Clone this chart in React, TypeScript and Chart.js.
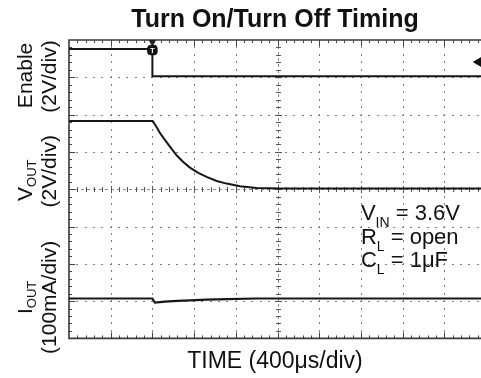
import React, { useEffect, useRef } from "react";
import { Chart, registerables } from "chart.js";

Chart.register(...registerables);

const FAMILY = "'Liberation Sans', Arial, Helvetica, sans-serif";

const TITLE = "Turn On/Turn Off Timing";
const X_AXIS_TITLE = "TIME (400μs/div)";

// Axes in screen divisions (10 x 8 graticule; the right edge is cut off)
const X_MIN = 0;
const X_MAX = 9.88;
const Y_MIN = 0;
const Y_MAX = 8;

// Enable trace
const enableT = [0, 2.0, 2.0, 9.88];
const enableV = [7.76, 7.76, 7.03, 7.03];

// VOUT trace
const voutT = [0, 2.007, 2.1, 2.18, 2.3, 2.42, 2.58, 2.74, 2.9, 3.1, 3.3, 3.54, 3.78, 4.1, 4.5, 5.06, 9.88];
const voutV = [5.83, 5.83, 5.67, 5.51, 5.32, 5.14, 4.91, 4.73, 4.58, 4.44, 4.33, 4.22, 4.15, 4.08, 4.03, 4.02, 4.02];

// IOUT trace
const ioutT = [0, 2.0, 2.06, 2.3, 2.6, 2.9, 3.3, 3.8, 4.5, 9.88];
const ioutV = [1.07, 1.07, 0.96, 0.985, 1.005, 1.02, 1.04, 1.055, 1.07, 1.07];

// Scope markers
const trigT = [2.0];
const trigV = [7.73];
const trigPosT = [2.0];
const trigPosV = [7.94];
const trigLevelT = [9.82];
const trigLevelV = [7.41];

type Part = { t: string; sub?: boolean };
const channelNames: Part[][] = [
  [{ t: "Enable" }],
  [{ t: "V" }, { t: "OUT", sub: true }],
  [{ t: "I" }, { t: "OUT", sub: true }],
];
const channelScales = ["(2V/div)", "(2V/div)", "(100mA/div)"];
const conditions: Part[][] = [
  [{ t: "V" }, { t: "IN", sub: true }, { t: " = 3.6V" }],
  [{ t: "R" }, { t: "L", sub: true }, { t: " = open" }],
  [{ t: "C" }, { t: "L", sub: true }, { t: " = 1μF" }],
];

const TRACE = "#161616";

const pts = (t: number[], v: number[]) => t.map((x, i) => ({ x, y: v[i] }));

function richWidth(ctx: CanvasRenderingContext2D, parts: Part[], main: number, sub: number) {
  let w = 0;
  for (const p of parts) {
    ctx.font = `${p.sub ? sub : main}px ${FAMILY}`;
    w += ctx.measureText(p.t).width;
  }
  return w;
}

function drawRich(
  ctx: CanvasRenderingContext2D,
  parts: Part[],
  x: number,
  y: number,
  main: number,
  sub: number,
  drop: number
) {
  let cx = x;
  for (const p of parts) {
    ctx.font = `${p.sub ? sub : main}px ${FAMILY}`;
    ctx.fillText(p.t, cx, p.sub ? y + drop : y);
    cx += ctx.measureText(p.t).width;
  }
}

const scopeGrid = {
  id: "scopeGrid",
  beforeDatasetsDraw(chart: any) {
    const { ctx, chartArea, scales } = chart;
    const x = scales.x;
    const y = scales.y;
    const L = chartArea.left;
    const R = chartArea.right;
    const T = chartArea.top;
    const B = chartArea.bottom;
    ctx.save();
    // dotted graticule
    ctx.fillStyle = "#7c7c7c";
    for (let i = 1; i < 10; i++) {
      if (i === 5) continue;
      const px = Math.round(x.getPixelForValue(i));
      if (px > R) continue;
      for (let k = 1; k < 40; k++) {
        const py = Math.round(y.getPixelForValue(k * 0.2));
        ctx.fillRect(px, py - 1, 1, 2);
      }
    }
    for (let j = 1; j < 8; j++) {
      if (j === 4) continue;
      const py = Math.round(y.getPixelForValue(j));
      for (let k = 1; k <= 50; k++) {
        const px = Math.round(x.getPixelForValue(k * 0.2));
        if (px > R) break;
        ctx.fillRect(px - 1, py, 2, 1);
      }
    }
    // center axes
    const cx = Math.round(x.getPixelForValue(5)) + 0.5;
    const cy = Math.round(y.getPixelForValue(4)) + 0.5;
    ctx.strokeStyle = "#8a8a8a";
    ctx.lineWidth = 1;
    ctx.setLineDash([3, 3]);
    ctx.beginPath();
    ctx.moveTo(cx, T);
    ctx.lineTo(cx, B);
    ctx.moveTo(L, cy);
    ctx.lineTo(R, cy);
    ctx.stroke();
    ctx.setLineDash([]);
    ctx.fillStyle = "#555";
    for (let k = 1; k < 40; k++) {
      const py = Math.round(y.getPixelForValue(k * 0.2));
      const len = k % 5 === 0 ? 7 : 5;
      ctx.fillRect(Math.round(cx - len / 2), py, len, 1);
    }
    for (let k = 1; k <= 50; k++) {
      const px = Math.round(x.getPixelForValue(k * 0.2));
      if (px > R) break;
      const len = k % 5 === 0 ? 7 : 5;
      ctx.fillRect(px, Math.round(cy - len / 2), 1, len);
    }
    // border with inward ticks
    ctx.strokeStyle = "#3a3a3a";
    ctx.lineWidth = 1.6;
    ctx.beginPath();
    ctx.moveTo(R + 2, T);
    ctx.lineTo(L, T);
    ctx.lineTo(L, B);
    ctx.lineTo(R + 2, B);
    ctx.stroke();
    ctx.fillStyle = "#444";
    for (let k = 1; k < 40; k++) {
      const py = Math.round(y.getPixelForValue(k * 0.2));
      const len = k % 5 === 0 ? 6 : 3;
      ctx.fillRect(L, py, len, 1);
    }
    for (let k = 1; k <= 50; k++) {
      const px = Math.round(x.getPixelForValue(k * 0.2));
      if (px > R) break;
      const len = k % 5 === 0 ? 6 : 3;
      ctx.fillRect(px, T, 1, len);
      ctx.fillRect(px, B - len, 1, len);
    }
    ctx.restore();
  },
};

const scopeText = {
  id: "scopeText",
  afterDraw(chart: any) {
    const { ctx, scales } = chart;
    const x = scales.x;
    const y = scales.y;
    ctx.save();

    // trigger marker glyph
    const tx = x.getPixelForValue(trigT[0]);
    const ty = y.getPixelForValue(trigV[0]);
    ctx.fillStyle = "#fff";
    ctx.font = `bold 8px ${FAMILY}`;
    ctx.textAlign = "center";
    ctx.textBaseline = "middle";
    ctx.fillText("T", tx, ty + 0.5);

    ctx.textAlign = "left";
    ctx.textBaseline = "alphabetic";
    ctx.fillStyle = "#111";

    // rotated channel labels
    const nameCenters = [7.05, 4.24, 1.1];
    const scaleCenters = [7.02, 4.48, 1.1];
    const MAIN = 21;
    const SUB = 13;
    for (let i = 0; i < 3; i++) {
      const cyN = y.getPixelForValue(nameCenters[i]);
      const wN = richWidth(ctx, channelNames[i], MAIN, SUB);
      ctx.save();
      ctx.translate(32, cyN);
      ctx.rotate(-Math.PI / 2);
      drawRich(ctx, channelNames[i], -wN / 2, 0, MAIN, SUB, 4);
      ctx.restore();

      const cyS = y.getPixelForValue(scaleCenters[i]);
      ctx.font = `${MAIN}px ${FAMILY}`;
      const wS = ctx.measureText(channelScales[i]).width;
      ctx.save();
      ctx.translate(55.5, cyS);
      ctx.rotate(-Math.PI / 2);
      ctx.fillText(channelScales[i], -wS / 2, 0);
      ctx.restore();
    }

    // test conditions
    const condX = x.getPixelForValue(7.0);
    const condY = [3.17, 2.54, 1.91];
    for (let i = 0; i < 3; i++) {
      drawRich(ctx, conditions[i], condX, y.getPixelForValue(condY[i]), 22, 14, 7);
    }
    ctx.restore();
  },
};

export default function App() {
  const ref = useRef<HTMLCanvasElement>(null);
  useEffect(() => {
    Chart.defaults.font.family = FAMILY;
    const chart = new Chart(ref.current as HTMLCanvasElement, {
      type: "line",
      data: {
        datasets: [
          {
            label: "Enable",
            data: pts(enableT, enableV),
            borderColor: TRACE,
            borderWidth: 2,
            pointRadius: 0,
            tension: 0,
          },
          {
            label: "VOUT",
            data: pts(voutT, voutV),
            borderColor: TRACE,
            borderWidth: 2,
            pointRadius: 0,
            tension: 0,
          },
          {
            label: "IOUT",
            data: pts(ioutT, ioutV),
            borderColor: TRACE,
            borderWidth: 2.2,
            pointRadius: 0,
            tension: 0,
          },
          {
            label: "Trigger",
            data: pts(trigT, trigV),
            showLine: false,
            pointStyle: "rectRounded",
            pointRadius: 5.5,
            backgroundColor: "#111",
            borderColor: "#111",
            borderWidth: 1,
          },
          {
            label: "Trigger position",
            data: pts(trigPosT, trigPosV),
            showLine: false,
            pointStyle: "triangle",
            rotation: 180,
            pointRadius: 3.5,
            backgroundColor: "#222",
            borderColor: "#222",
            borderWidth: 1,
          },
          {
            label: "Trigger level",
            data: pts(trigLevelT, trigLevelV),
            showLine: false,
            pointStyle: "triangle",
            rotation: 270,
            pointRadius: 5,
            backgroundColor: "#111",
            borderColor: "#111",
            borderWidth: 1,
          },
        ],
      } as any,
      options: {
        animation: false,
        responsive: true,
        maintainAspectRatio: false,
        layout: { autoPadding: false, padding: { left: 69, right: 0, top: 0, bottom: 0 } },
        plugins: {
          legend: { display: false },
          tooltip: { enabled: false },
          title: {
            display: true,
            text: TITLE,
            color: "#111",
            fullSize: false,
            font: { size: 25, weight: "bold", family: FAMILY },
            padding: { top: 5, bottom: 5 },
          },
        },
        scales: {
          x: {
            type: "linear",
            min: X_MIN,
            max: X_MAX,
            display: true,
            grid: { display: false, drawTicks: false },
            border: { display: false },
            ticks: { display: false },
            title: {
              display: true,
              text: X_AXIS_TITLE,
              color: "#111",
              font: { size: 23, family: FAMILY },
              padding: { top: 9, bottom: 3 },
            },
          },
          y: {
            type: "linear",
            min: Y_MIN,
            max: Y_MAX,
            display: false,
          },
        },
      } as any,
      plugins: [scopeGrid, scopeText],
    });
    return () => chart.destroy();
  }, []);
  return (
    <div style={{ position: "fixed", left: 0, top: 0, width: 481, height: 378, background: "#fff" }}>
      <canvas ref={ref} />
    </div>
  );
}
